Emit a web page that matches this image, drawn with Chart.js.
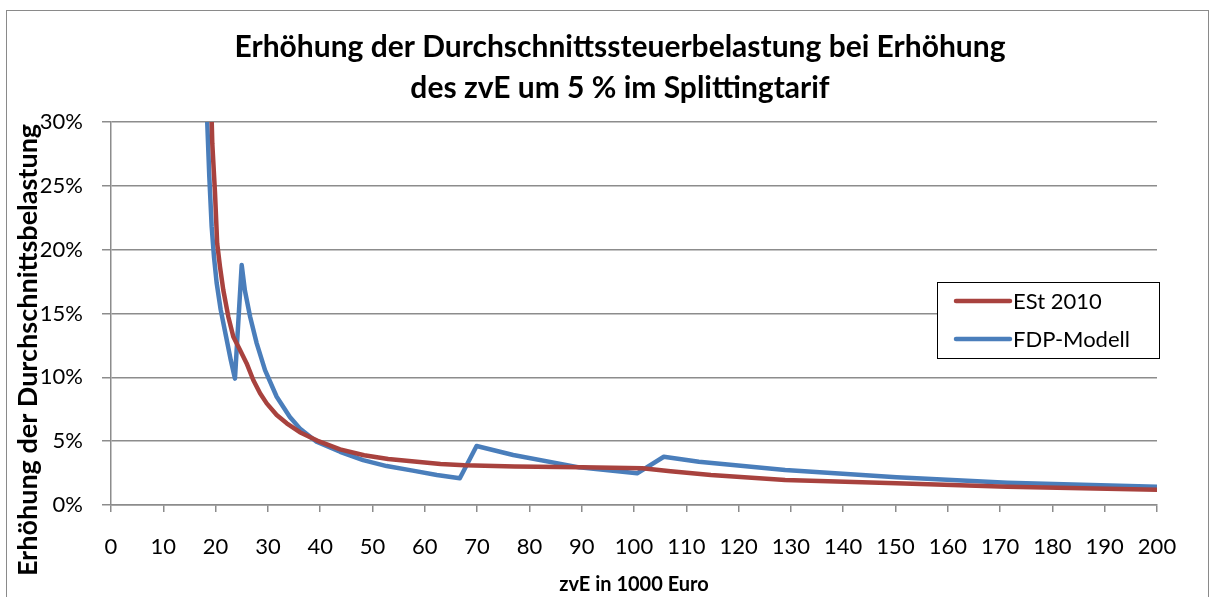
<!DOCTYPE html>
<html>
<head>
<meta charset="utf-8">
<script src="https://cdn.jsdelivr.net/npm/chart.js@4.4.1/dist/chart.umd.min.js"></script>
<style>
  html, body { margin: 0; padding: 0; background: #fff; }
  #wrap { position: relative; width: 1212px; height: 597px; overflow: hidden; }
  #frame { position: absolute; left: 6px; top: 10px; width: 1201px; height: 600px; border: 1px solid #8a8a8a; }
  canvas { position: absolute; left: 0; top: 0; }
</style>
</head>
<body>
<div id="wrap">
  <div id="frame"></div>
  <canvas id="chart" width="1212" height="597"></canvas>
</div>
<script>
// data (zvE in 1000 Euro, increase in %)
var estX = [18.6, 19.37, 19.89, 20.3, 20.84, 21.47, 22.43, 23.39, 24.67, 25.94, 27.2, 28.5, 29.77, 31.68, 33.6, 36.1, 39.4, 43.8, 48.4, 53, 58, 63, 67.6, 77.2, 90, 101.6, 107, 114.7, 128.9, 150.2, 171.4, 200];
var estY = [40, 28.3, 24.4, 20.5, 18.66, 16.84, 14.75, 13.18, 12.14, 11.09, 9.79, 8.75, 7.96, 7.05, 6.4, 5.7, 5.05, 4.36, 3.9, 3.6, 3.4, 3.22, 3.12, 3.02, 2.95, 2.88, 2.65, 2.35, 1.96, 1.7, 1.43, 1.2];

var fdpX = [17.9, 18.41, 18.8, 19.25, 19.7, 20.2, 20.97, 22.0, 22.9, 23.7, 24.99, 25.6, 26.6, 27.86, 29.45, 31.68, 34.2, 36.1, 39.3, 43.8, 48.2, 52.7, 57.7, 62.3, 66.7, 69.9, 76.9, 89.5, 100.6, 105.7, 112.4, 128.9, 150.2, 171.4, 200];
var fdpY = [40, 29.9, 25.7, 21.8, 19.4, 17.4, 15.3, 13.2, 11.35, 9.9, 18.8, 16.8, 14.75, 12.66, 10.57, 8.48, 6.9, 6.0, 4.96, 4.17, 3.52, 3.05, 2.69, 2.35, 2.09, 4.62, 3.92, 2.95, 2.48, 3.78, 3.39, 2.74, 2.17, 1.75, 1.43];

var seriesNames = ['ESt 2010', 'FDP-Modell'];
var seriesColors = ['#A8423E', '#4A7EBB'];

var xTickValues = [0, 10, 20, 30, 40, 50, 60, 70, 80, 90, 100, 110, 120, 130, 140, 150, 160, 170, 180, 190, 200];
var yTickValues = [0, 5, 10, 15, 20, 25, 30];

var titleLines = ['Erhöhung der Durchschnittssteuerbelastung bei Erhöhung', 'des zvE um 5 % im Splittingtarif'];
var xTitle = 'zvE in 1000 Euro';
var yTitle = 'Erhöhung der Durchschnittsbelastung';

var FONT = 'Lato, "Open Sans", sans-serif';
var GRID = '#8c8c8c';

function toPoints(xs, ys) {
    var pts = [];
    for (var i = 0; i < xs.length; i++) {
        pts.push({ x: xs[i], y: ys[i] });
    }
    return pts;
}

// chart title and y axis title, placed like in the picture (not centred on the plot)
var textPlugin = {
    id: 'texts',
    afterDraw: function(chart) {
        var c = chart.ctx;
        c.save();
        c.fillStyle = '#000';
        c.textAlign = 'center';
        c.textBaseline = 'middle';
        c.font = 'bold 30px ' + FONT;
        titleLines.forEach(function(line, i) {
            c.fillText(line, 620, 47 + i * 41);
        });
        c.translate(28, 350);
        c.rotate(-Math.PI / 2);
        c.font = 'bold 27px ' + FONT;
        c.fillText(yTitle, 0, 0);
        c.restore();
    }
};

// boxed legend at the right side of the plot
var boxLegend = {
    id: 'boxLegend',
    afterDraw: function(chart) {
        var c = chart.ctx;
        var area = chart.chartArea;
        var w = 222, h = 76;
        var left = area.right + 2 - w, top = 282;
        c.save();
        c.fillStyle = '#fff';
        c.fillRect(left, top, w, h);
        c.strokeStyle = '#000';
        c.lineWidth = 1;
        c.strokeRect(left + 0.5, top + 0.5, w, h);
        c.font = '22px ' + FONT;
        c.textBaseline = 'middle';
        chart.data.datasets.forEach(function(ds, i) {
            var y = top + 19 + i * 38;
            c.strokeStyle = ds.borderColor;
            c.lineWidth = 4.5;
            c.lineCap = 'round';
            c.beginPath();
            c.moveTo(left + 19, y);
            c.lineTo(left + 73, y);
            c.stroke();
            c.fillStyle = '#000';
            c.fillText(ds.label, left + 76, y + 1);
        });
        c.restore();
    }
};

var ctx = document.getElementById('chart').getContext('2d');

var config = {
    type: 'line',
    data: {
        datasets: [{
            label: seriesNames[0],
            data: toPoints(estX, estY),
            borderColor: seriesColors[0],
            backgroundColor: seriesColors[0],
            borderWidth: 4.5,
            pointRadius: 0,
            tension: 0,
            borderJoinStyle: 'round',
            borderCapStyle: 'round',
            clip: 0
        }, {
            label: seriesNames[1],
            data: toPoints(fdpX, fdpY),
            borderColor: seriesColors[1],
            backgroundColor: seriesColors[1],
            borderWidth: 4.5,
            pointRadius: 0,
            tension: 0,
            borderJoinStyle: 'round',
            borderCapStyle: 'round',
            clip: 0
        }]
    },
    options: {
        responsive: false,
        animation: false,
        layout: {
            padding: { left: 0, right: 55, top: 122, bottom: 0 }
        },
        scales: {
            x: {
                type: 'linear',
                min: 0,
                max: 200,
                afterBuildTicks: function(scale) {
                    scale.ticks = xTickValues.map(function(v) { return { value: v }; });
                },
                afterFit: function(scale) {
                    scale.height = 92;
                },
                grid: {
                    drawOnChartArea: false,
                    drawTicks: true,
                    tickLength: 7,
                    color: GRID,
                    lineWidth: 1.5
                },
                border: { display: true, color: GRID, width: 1.5 },
                ticks: {
                    color: '#000',
                    font: { family: FONT, size: 22 },
                    padding: 22,
                    maxRotation: 0,
                    autoSkip: false
                },
                title: {
                    display: true,
                    text: xTitle,
                    color: '#000',
                    font: { family: FONT, size: 20, weight: 'bold', lineHeight: 1.2 },
                    padding: { top: 0, bottom: 0 }
                }
            },
            y: {
                min: 0,
                max: 30,
                afterBuildTicks: function(scale) {
                    scale.ticks = yTickValues.map(function(v) { return { value: v }; });
                },
                afterFit: function(scale) {
                    scale.width = 111;
                },
                grid: {
                    color: GRID,
                    lineWidth: 1.5,
                    tickLength: 9
                },
                border: { display: true, color: GRID, width: 1.5 },
                ticks: {
                    color: '#000',
                    font: { family: FONT, size: 22 },
                    padding: 19,
                    callback: function(v) { return v + '%'; }
                }
            }
        },
        plugins: {
            legend: { display: false },
            tooltip: { enabled: false },
            title: { display: false }
        }
    },
    plugins: [textPlugin, boxLegend]
};

var chart = new Chart(ctx, config);
</script>
</body>
</html>
